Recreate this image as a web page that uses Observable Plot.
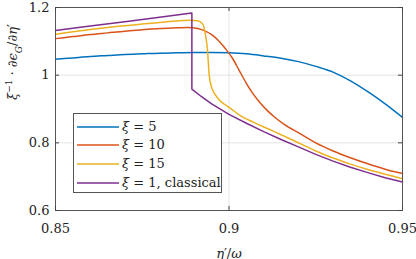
<!DOCTYPE html>
<html><head><meta charset="utf-8">
<script src="https://cdn.jsdelivr.net/npm/d3@7"></script>
<script src="https://cdn.jsdelivr.net/npm/@observablehq/plot@0.6"></script>
<style>
body{margin:0;background:#fff;}
#wrap{position:relative;width:416px;height:259px;font-family:"DejaVu Serif",serif;}
#legend{position:absolute;left:73px;top:113px;width:147px;height:78px;border:1px solid #555;background:#fff;box-sizing:content-box;}
.row{position:absolute;left:0;height:19px;display:flex;align-items:center;font-size:13px;color:#222;white-space:nowrap;font-family:"DejaVu Serif",serif;}
.row svg{margin-left:3px;margin-right:3px;}
</style></head><body><div id="wrap"></div>
<script>
const xTicks = [0.85, 0.9, 0.95];
const yTicks = [0.6, 0.8, 1, 1.2];
const seriesNames = ["ξ = 5", "ξ = 10", "ξ = 15", "ξ = 1, classical"];
const seriesColors = ["#0072BD", "#D95319", "#EDB120", "#7E2F8E"];

const x5 = [0.85,0.855,0.86,0.865,0.87,0.875,0.88,0.885,0.89,0.895,0.9,0.905,0.91,0.915,0.92,0.925,0.93,0.935,0.94,0.945,0.95];
const y5 = [1.047,1.051,1.055,1.058,1.061,1.063,1.065,1.066,1.067,1.067,1.066,1.063,1.057,1.050,1.040,1.026,1.009,0.983,0.951,0.915,0.875];

const x10 = [0.85,0.855,0.86,0.865,0.87,0.875,0.88,0.885,0.888,0.891,0.893,0.895,0.897,0.899,0.901,0.903,0.905,0.907,0.909,0.911,0.913,0.916,0.92,0.925,0.93,0.935,0.94,0.945,0.95];
const y10 = [1.108,1.114,1.120,1.125,1.130,1.134,1.138,1.140,1.141,1.138,1.131,1.120,1.102,1.078,1.050,1.013,0.976,0.944,0.918,0.896,0.877,0.854,0.830,0.800,0.776,0.756,0.738,0.722,0.709];

const x15 = [0.85,0.855,0.86,0.865,0.87,0.875,0.88,0.885,0.889,0.891,0.8925,0.8932,0.8938,0.8943,0.895,0.8958,0.897,0.8987,0.9,0.9035,0.907,0.912,0.918,0.925,0.93,0.935,0.94,0.945,0.95];
const y15 = [1.121,1.128,1.135,1.141,1.146,1.151,1.156,1.160,1.162,1.161,1.150,1.120,1.075,1.000,0.964,0.946,0.929,0.914,0.905,0.879,0.861,0.838,0.810,0.776,0.755,0.737,0.721,0.707,0.694];

const x1 = [0.85,0.86,0.87,0.88,0.8893,0.8893,0.892,0.895,0.9,0.905,0.91,0.915,0.92,0.925,0.93,0.935,0.94,0.945,0.95];
const y1 = [1.132,1.145,1.158,1.171,1.184,0.959,0.937,0.915,0.884,0.858,0.833,0.810,0.788,0.766,0.746,0.728,0.712,0.697,0.684];

const xs = [x5, x10, x15, x1], ys = [y5, y10, y15, y1];
const rows = [];
seriesNames.forEach((s, i) => xs[i].forEach((x, j) => rows.push({x, y: ys[i][j], s})));
const smoothRows = rows.filter(d => d.s !== seriesNames[3]);
const classicRows = rows.filter(d => d.s === seriesNames[3]);

const tx = (0.95 - 0.85) * 4 / 347, ty = (1.2 - 0.6) * 4 / 203;
const tickCol = "#444";
const FONT = "DejaVu Serif";

const chart = Plot.plot({
  width: 416, height: 259,
  marginLeft: 55, marginRight: 14, marginTop: 7, marginBottom: 49,
  x: {domain: [0.85, 0.95]},
  y: {domain: [0.6, 1.2]},
  color: {domain: seriesNames, range: seriesColors},
  style: {fontFamily: FONT, fontSize: "13px", background: "white", color: "#222"},
  marks: [
    Plot.gridX(xTicks, {stroke: "#e4e4e4", strokeOpacity: 1}),
    Plot.gridY(yTicks, {stroke: "#e4e4e4", strokeOpacity: 1}),
    Plot.line(smoothRows, {x: "x", y: "y", z: "s", stroke: "s", strokeWidth: 1.5, curve: "monotone-x"}),
    Plot.line(classicRows, {x: "x", y: "y", z: "s", stroke: "s", strokeWidth: 1.5}),
    Plot.frame({stroke: "#555"}),
    Plot.ruleX(xTicks, {x: d => d, y1: 0.6, y2: 0.6 + ty, stroke: tickCol}),
    Plot.ruleX(xTicks, {x: d => d, y1: 1.2 - ty, y2: 1.2, stroke: tickCol}),
    Plot.ruleY(yTicks, {y: d => d, x1: 0.85, x2: 0.85 + tx, stroke: tickCol}),
    Plot.ruleY(yTicks, {y: d => d, x1: 0.95 - tx, x2: 0.95, stroke: tickCol}),
    Plot.axisX(xTicks, {tickSize: 0, tickPadding: 13, tickFormat: d => String(d), label: null}),
    Plot.axisY(yTicks, {tickSize: 0, tickPadding: 6, tickFormat: d => String(d), label: null}),
    Plot.text(["η′/ω"], {frameAnchor: "bottom", dy: 47, fontStyle: "italic", className: "xlab"}),
    Plot.text(["ylab"], {frameAnchor: "left", dx: -43, dy: -9, rotate: -90, className: "ylab"})
  ]
});

const wrap = document.getElementById("wrap");
wrap.appendChild(chart);

const NS = "http://www.w3.org/2000/svg";
function setRich(textEl, parts) {
  textEl.textContent = "";
  for (const p of parts) {
    const t = document.createElementNS(NS, "tspan");
    t.textContent = p.t;
    t.setAttribute("font-style", p.i ? "italic" : "normal");
    if (p.sup) { t.setAttribute("baseline-shift", "super"); t.setAttribute("font-size", "9px"); }
    if (p.sub) { t.setAttribute("baseline-shift", "sub"); t.setAttribute("font-size", "9px"); }
    textEl.appendChild(t);
  }
}
const yl = chart.querySelector(".ylab text");
if (yl) setRich(yl, [
  {t: "ξ", i: 1}, {t: "−1", sup: 1}, {t: " · ∂"}, {t: "ϵ", i: 1}, {t: "G", i: 1, sub: 1},
  {t: "/∂"}, {t: "η", i: 1}, {t: "′"}
]);
const xl = chart.querySelector(".xlab text");
if (xl) setRich(xl, [{t: "η", i: 1}, {t: "′/"}, {t: "ω", i: 1}]);

const lg = document.createElement("div");
lg.id = "legend";
const rowTops = [3, 21, 40, 59];
seriesNames.forEach((s, i) => {
  const r = document.createElement("div");
  r.className = "row";
  r.style.top = rowTops[i] + "px";
  const parts = s.split(" ");
  r.innerHTML = `<svg width="42" height="4"><line x1="0" x2="42" y1="2" y2="2" stroke="${seriesColors[i]}" stroke-width="1.5"/></svg><span><i>${parts[0]}</i> ${parts.slice(1).join(" ")}</span>`;
  lg.appendChild(r);
});
wrap.appendChild(lg);
</script></body></html>
